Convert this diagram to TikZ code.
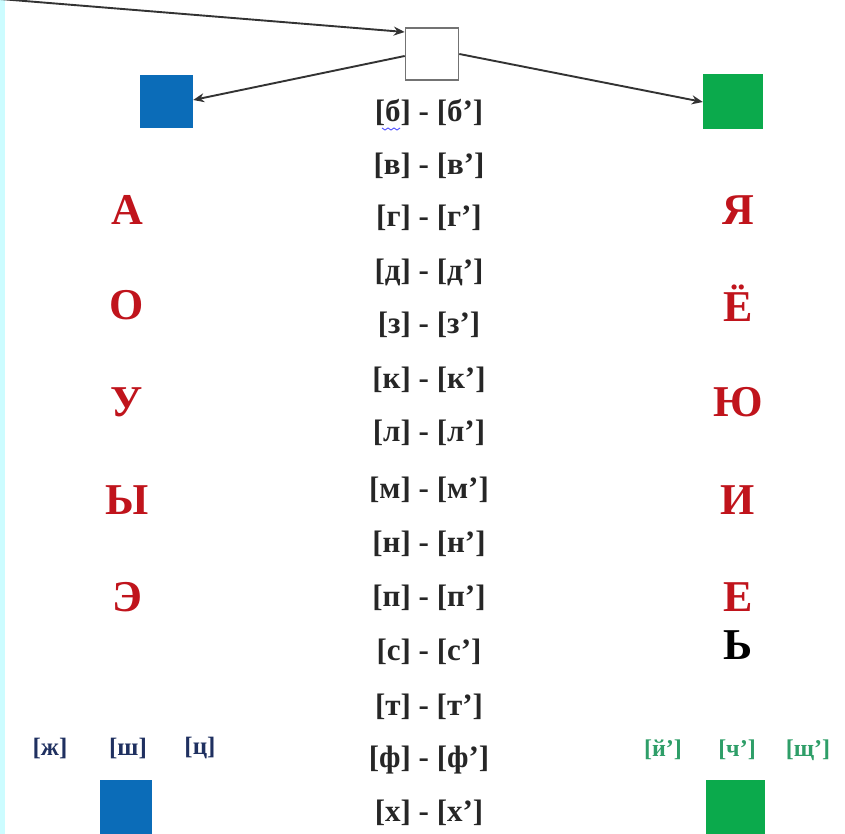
\documentclass[tikz,border=0pt]{standalone}
\usepackage{fontspec}
\setmainfont{Liberation Serif}
\usetikzlibrary{arrows.meta}
\definecolor{dred}{HTML}{C0141C}
\definecolor{sqblue}{HTML}{0B6CB8}
\definecolor{sqgreen}{HTML}{0BAA4C}
\definecolor{navy}{HTML}{1F3060}
\definecolor{tgreen}{HTML}{2E9E68}
\definecolor{cyanedge}{HTML}{CCFCFF}
\tikzset{
  pair/.style={font=\fontsize{31}{34}\selectfont\bfseries, text=black!85, inner sep=0pt, anchor=center},
  vowel/.style={font=\fontsize{44}{46}\selectfont\bfseries, text=dred, inner sep=0pt},
  hard/.style={font=\fontsize{25}{28}\selectfont\bfseries, text=navy, inner sep=0pt},
  soft/.style={font=\fontsize{24}{28}\selectfont\bfseries, text=tgreen, inner sep=0pt},
  arr/.style={-{Stealth[length=11pt,width=9pt]}, line width=1.9pt, draw=black!80},
}
\begin{document}
\begin{tikzpicture}[x=1pt,y=-1pt]
\useasboundingbox (0,0) rectangle (845,834);
\fill[white] (0,0) rectangle (845,834);
\fill[cyanedge] (0,0) rectangle (5,834);
% boxes
\node[draw=black!55, line width=1.6pt, fill=white, minimum width=53pt, minimum height=52pt, inner sep=0pt] (top) at (432,54) {};
\node[fill=sqblue, minimum width=53pt, minimum height=53pt, inner sep=0pt] (lb) at (166.5,102) {};
\node[fill=sqgreen, minimum width=60pt, minimum height=55pt, inner sep=0pt] (rb) at (733,102) {};
\node[fill=sqblue, minimum width=52pt, minimum height=56pt, inner sep=0pt] (lbb) at (126,808) {};
\node[fill=sqgreen, minimum width=59pt, minimum height=56pt, inner sep=0pt] (rbb) at (735.5,808) {};
% arrows
\coordinate (start) at (0,-1);
\draw[arr] (start) -- (top.west|-0,32);
\draw[arr] (top.west|-0,56) -- (lb.east|-0,100);
\draw[arr] (top.east|-0,54) -- (rb.west|-0,102);
% centre pairs
\node[pair] (p1) at (429,112) {[б] - [б’]};
\draw[blue!70, line width=0.9pt] (382,128) -- ++(3,2) -- ++(3,-2) -- ++(3,2) -- ++(3,-2) -- ++(3,2) -- ++(3,-2);
\node[pair] (p2) at (429,166) {[в] - [в’]};
\node[pair] (p3) at (429,218) {[г] - [г’]};
\node[pair] (p4) at (429,272) {[д] - [д’]};
\node[pair] (p5) at (429,325) {[з] - [з’]};
\node[pair] (p6) at (429,380) {[к] - [к’]};
\node[pair] (p7) at (429,433) {[л] - [л’]};
\node[pair] (p8) at (429,490) {[м] - [м’]};
\node[pair] (p9) at (429,544) {[н] - [н’]};
\node[pair] (p10) at (429,598) {[п] - [п’]};
\node[pair] (p11) at (429,652) {[с] - [с’]};
\node[pair] (p12) at (429,707) {[т] - [т’]};
\node[pair] (p13) at (429,760) {[ф] - [ф’]};
\node[pair] (p14) at (429,813) {[х] - [х’]};
% vowels
\node[vowel] (a) at (127,210) {А};
\node[vowel] (o) at (127,305) {О};
\node[vowel] (u) at (127,402) {У};
\node[vowel] (y) at (127,500) {Ы};
\node[vowel] (e) at (127,597) {Э};
\node[vowel] (ya) at (738,210) {Я};
\node[vowel] (yo) at (738,303) {Ё};
\node[vowel] (yu) at (738,402) {Ю};
\node[vowel] (i) at (738,500) {И};
\node[vowel] (ye) at (738,597) {Е};
\node[vowel, text=black] (sz) at (738,645) {Ь};
% bottom consonants
\node[hard] (zh) at (50,748) {[ж]};
\node[hard] (sh) at (128,748) {[ш]};
\node[hard] (ts) at (200,748) {[ц]};
\node[soft] (j) at (663,750) {[й’]};
\node[soft] (ch) at (737,750) {[ч’]};
\node[soft] (shch) at (808,750) {[щ’]};
\end{tikzpicture}
\end{document}
